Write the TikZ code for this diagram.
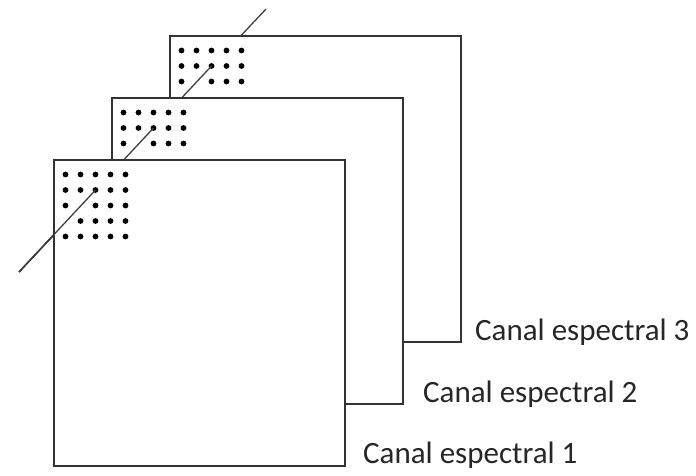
\documentclass[tikz,border=0pt]{standalone}
\usepackage{fontspec}
\setmainfont{Carlito}
\usetikzlibrary{calc}
\tikzset{
  planebox/.style={draw=black!80, line width=2pt, fill=white},
  pixeldot/.style={fill=black, draw=none},
  rayline/.style={draw=black!75, line width=1.3pt},
  chanlabel/.style={anchor=base west, inner sep=0pt, text=black!85, font=\fontsize{31}{37}\selectfont}
}

\begin{document}
\begin{tikzpicture}[x=1pt, y=-1pt]
  \useasboundingbox (0,0) rectangle (696,475);
  \coordinate (raytop) at (266,9);
  \coordinate (raybot) at (19,272);
  % the ray, behind all planes
  \draw[rayline] (raytop) -- (raybot);
  % planes, back to front
  \foreach \k/\ox/\oy/\nr in {3/170/36/2, 2/112/98/2, 1/54/160/4} {
    \draw[planebox] (\ox,\oy) rectangle ++(291,306);
    \foreach \c in {0,...,4} {
      \foreach \r in {0,...,\nr} {
        \pgfmathtruncatemacro\skipdot{(\c==1)*(\r==2)+(\c==0)*(\r==3)}
        \ifnum\skipdot=0
          \fill[pixeldot] (\ox+11.5+15*\c, \oy+14.5+15.5*\r) circle[radius=2.9];
        \fi
      }
    }
    \coordinate (hit\k) at (\ox+41.5, \oy+30);
    \draw[rayline] (hit\k) -- (raybot);
  }
  \node[chanlabel] (chan3) at (475,340) {Canal espectral 3};
  \node[chanlabel] (chan2) at (423,402) {Canal espectral 2};
  \node[chanlabel] (chan1) at (363,463) {Canal espectral 1};
\end{tikzpicture}
\end{document}
